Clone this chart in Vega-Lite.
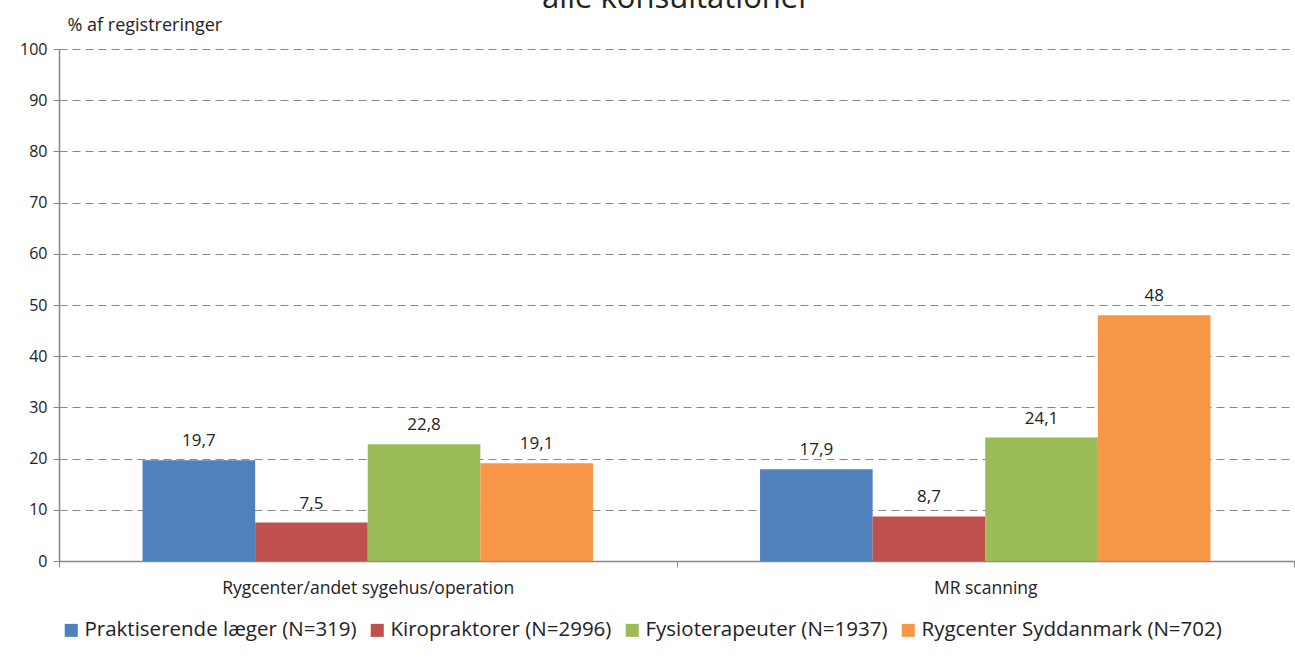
{
  "$schema": "https://vega.github.io/schema/vega-lite/v6.json",
  "width": 1235,
  "height": 512,
  "autosize": "none",
  "padding": {"left": 59, "top": 49, "right": 1, "bottom": 107},
  "background": "white",
  "title": {
    "text": "alle konsultationer",
    "fontSize": 31,
    "font": "Open Sans",
    "fontWeight": "normal",
    "color": "#222222",
    "anchor": "middle",
    "frame": "group",
    "baseline": "alphabetic",
    "offset": 0,
    "dy": 23
  },
  "data": {
    "values": [
      {"kategori": "Rygcenter/andet sygehus/operation", "gruppe": "Praktiserende læger (N=319)", "pct": 19.7, "label": "19,7"},
      {"kategori": "Rygcenter/andet sygehus/operation", "gruppe": "Kiropraktorer (N=2996)", "pct": 7.5, "label": "7,5"},
      {"kategori": "Rygcenter/andet sygehus/operation", "gruppe": "Fysioterapeuter (N=1937)", "pct": 22.8, "label": "22,8"},
      {"kategori": "Rygcenter/andet sygehus/operation", "gruppe": "Rygcenter Syddanmark (N=702)", "pct": 19.1, "label": "19,1"},
      {"kategori": "MR scanning", "gruppe": "Praktiserende læger (N=319)", "pct": 17.9, "label": "17,9"},
      {"kategori": "MR scanning", "gruppe": "Kiropraktorer (N=2996)", "pct": 8.7, "label": "8,7"},
      {"kategori": "MR scanning", "gruppe": "Fysioterapeuter (N=1937)", "pct": 24.1, "label": "24,1"},
      {"kategori": "MR scanning", "gruppe": "Rygcenter Syddanmark (N=702)", "pct": 48, "label": "48"}
    ]
  },
  "encoding": {
    "x": {
      "field": "kategori",
      "type": "nominal",
      "sort": ["Rygcenter/andet sygehus/operation", "MR scanning"],
      "scale": {"paddingInner": 0, "paddingOuter": 0},
      "axis": {
        "title": null,
        "labelAngle": 0,
        "labelFont": "Open Sans",
        "labelFontSize": 17.5,
        "labelColor": "#222222",
        "labelPadding": 12,
        "labelLimit": 600,
        "tickBand": "extent",
        "tickSize": 6,
        "tickColor": "#888888",
        "domainColor": "#888888",
        "domainWidth": 1.5,
        "grid": false
      }
    },
    "xOffset": {
      "field": "gruppe",
      "type": "nominal",
      "sort": ["Praktiserende læger (N=319)", "Kiropraktorer (N=2996)", "Fysioterapeuter (N=1937)", "Rygcenter Syddanmark (N=702)"],
      "scale": {"paddingInner": 0, "paddingOuter": 0.742}
    },
    "y": {
      "field": "pct",
      "type": "quantitative",
      "scale": {"domain": [0, 100]},
      "axis": {
        "values": [0, 10, 20, 30, 40, 50, 60, 70, 80, 90, 100],
        "title": "% af  registreringer",
        "titleAngle": 0,
        "titleAlign": "left",
        "titleBaseline": "bottom",
        "titleX": 8,
        "titleY": -15,
        "titleFont": "Open Sans",
        "titleFontSize": 18,
        "titleFontWeight": "normal",
        "titleColor": "#222222",
        "labelFont": "Open Sans",
        "labelFontSize": 16,
        "labelColor": "#222222",
        "labelPadding": 6,
        "tickSize": 6,
        "tickColor": "#888888",
        "domainColor": "#888888",
        "domainWidth": 1.5,
        "gridDash": [8, 5],
        "gridColor": "#888888",
        "gridWidth": 1
      }
    }
  },
  "layer": [
    {
      "mark": {"type": "bar"},
      "encoding": {
        "color": {
          "field": "gruppe",
          "type": "nominal",
          "sort": ["Praktiserende læger (N=319)", "Kiropraktorer (N=2996)", "Fysioterapeuter (N=1937)", "Rygcenter Syddanmark (N=702)"],
          "scale": {
            "domain": ["Praktiserende læger (N=319)", "Kiropraktorer (N=2996)", "Fysioterapeuter (N=1937)", "Rygcenter Syddanmark (N=702)"],
            "range": ["#4F81BD", "#C0504D", "#9BBB59", "#F79646"]
          },
          "legend": {
            "title": null,
            "orient": "none",
            "direction": "horizontal",
            "legendX": 2,
            "legendY": 571,
            "symbolType": "square",
            "symbolSize": 170,
            "symbolStrokeWidth": 0,
            "labelFont": "Open Sans",
            "labelFontSize": 20.5,
            "labelColor": "#222222",
            "labelOffset": 3,
            "columnPadding": 10,
            "labelLimit": 400
          }
        }
      }
    },
    {
      "mark": {"type": "text", "dy": -19, "font": "Open Sans", "fontSize": 17, "color": "#222222"},
      "encoding": {
        "text": {"field": "label"}
      }
    }
  ],
  "config": {
    "view": {"stroke": null}
  }
}
